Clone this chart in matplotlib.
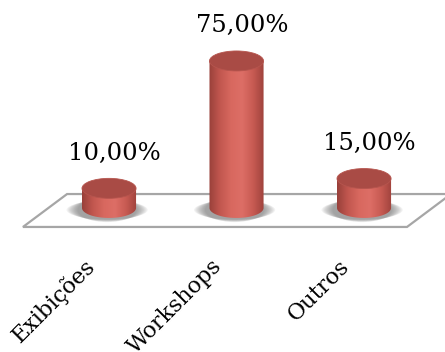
import numpy as np
import matplotlib
matplotlib.use('Agg')
import matplotlib.pyplot as plt
from matplotlib.patches import Ellipse, Polygon
from matplotlib.colors import LinearSegmentedColormap

categories = ['Exibições', 'Workshops', 'Outros']
values = [10.0, 75.0, 15.0]
value_labels = ['10,00%', '75,00%', '15,00%']

plt.rcParams['font.family'] = ['DejaVu Serif']

fig = plt.figure(figsize=(4.45, 3.52), dpi=100)
ax = fig.add_axes([0, 0, 1, 1])
ax.set_xlim(-0.855, 2.635)
ax.set_ylim(-73.5, 106.1)
ax.axis('off')

# floor of the 3d plot (parallelogram)
floor = Polygon([(-0.675, -9.7), (2.337, -9.7), (2.682, 7.1), (-0.329, 7.1)],
                closed=True, facecolor='white', edgecolor='#a6a6a6', lw=1.6, zorder=1)
ax.add_patch(floor)

w = 0.424   # cylinder width (x units)
h = 10.2    # ellipse height (y units)

body_cmap = LinearSegmentedColormap.from_list(
    'body', ['#98403a', '#c2574f', '#d8685f', '#dd6e66', '#c85b53', '#9f423c'])
grad = np.linspace(0, 1, 256).reshape(1, -1)

for i, (cat, v, lab) in enumerate(zip(categories, values, value_labels)):
    xc = i
    # soft shadow under the base
    for k in range(10):
        s = 1.5 - 0.045 * k
        sh = Ellipse((xc - 0.015, -1.0), w * s, h * (0.95 + 0.03 * k),
                     facecolor='#606060', edgecolor='none', alpha=0.08, zorder=2)
        ax.add_patch(sh)

    t = np.linspace(np.pi, 2 * np.pi, 60)
    pts = list(zip(xc + w / 2 * np.cos(t), h / 2 * np.sin(t)))
    pts += [(xc + w / 2, v), (xc - w / 2, v)]
    body = Polygon(pts, closed=True, facecolor='none', edgecolor='none', zorder=3)
    ax.add_patch(body)
    im = ax.imshow(grad, cmap=body_cmap, aspect='auto', zorder=3,
                   extent=(xc - w / 2, xc + w / 2, -h, v + h))
    im.set_clip_path(body)

    top = Ellipse((xc, v), w, h, facecolor='#a94b45',
                  edgecolor='#b6554e', lw=0.6, zorder=4)
    ax.add_patch(top)

    ax.annotate(lab, (xc, v), xytext=(4, 17), textcoords='offset points',
                ha='center', va='bottom', fontsize=17.5, color='black', zorder=5)

    ax.text(xc - 0.2, -24, cat, rotation=45, rotation_mode='anchor',
            ha='right', va='top', fontsize=16, color='black')

fig.savefig('out.png', dpi=100)
